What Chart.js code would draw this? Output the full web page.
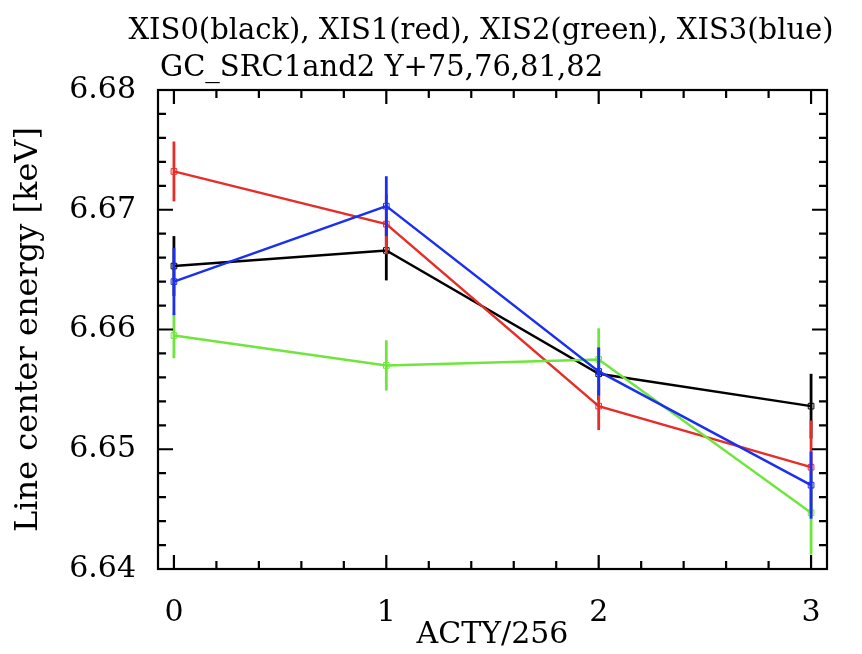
<!DOCTYPE html>
<html>
<head>
<meta charset="utf-8">
<script src="https://cdn.jsdelivr.net/npm/chart.js@4.4.1/dist/chart.umd.min.js"></script>
<style>
  html, body { margin: 0; padding: 0; background: #fff; }
  #wrap { width: 862px; height: 654px; }
</style>
</head>
<body>
<div id="wrap"><canvas id="c" width="862" height="654"></canvas></div>
<script>
// ACTY/256 bins
var acty = [0, 1, 2, 3];

// line center energy (keV) and 1-sigma errors
var xis0 = [6.6653, 6.6666, 6.6563, 6.6536];
var xis0Err = [0.0025, 0.0025, 0.0022, 0.0027];
var xis1 = [6.6732, 6.6688, 6.6536, 6.6485];
var xis1Err = [0.0025, 0.0025, 0.0020, 0.0039];
var xis2 = [6.6595, 6.6570, 6.6575, 6.6447];
var xis2Err = [0.0019, 0.0021, 0.0026, 0.0035];
var xis3 = [6.6640, 6.6703, 6.6565, 6.6470];
var xis3Err = [0.0028, 0.0025, 0.0020, 0.0028];

var yTicks = [6.64, 6.65, 6.66, 6.67, 6.68];
var xTicks = [0, 1, 2, 3];

var titleLine1 = 'XIS0(black), XIS1(red), XIS2(green), XIS3(blue)';
var titleLine2 = 'GC_SRC1and2 Y+75,76,81,82';

var FONT = '"DejaVu Serif", serif';

function pts(ys) {
  return acty.map(function(x, i) { return { x: x, y: ys[i] }; });
}

function series(ys, errs, color, order) {
  return {
    data: pts(ys),
    errs: errs,
    borderColor: color,
    borderWidth: 2.4,
    pointStyle: 'rect',
    pointRadius: 4,
    pointBorderWidth: 1,
    pointBorderColor: color,
    pointBackgroundColor: 'rgba(0,0,0,0)',
    tension: 0,
    order: order
  };
}

// vertical error bars, drawn with each dataset so the stacking matches
var errorBars = {
  id: 'errorBars',
  afterDatasetDraw: function(chart, args) {
    var ds = chart.data.datasets[args.index];
    var ys = chart.scales.y, xs = chart.scales.x;
    var ctx = chart.ctx;
    ctx.save();
    ctx.strokeStyle = ds.borderColor;
    ctx.lineWidth = 2.8;
    ds.data.forEach(function(p, i) {
      var px = xs.getPixelForValue(p.x);
      ctx.beginPath();
      ctx.moveTo(px, ys.getPixelForValue(p.y - ds.errs[i]));
      ctx.lineTo(px, ys.getPixelForValue(p.y + ds.errs[i]));
      ctx.stroke();
    });
    ctx.restore();
  }
};

// boxed frame with inward ticks on all four sides
var frame = {
  id: 'frame',
  afterDraw: function(chart) {
    var a = chart.chartArea, ctx = chart.ctx;
    var xs = chart.scales.x, ys = chart.scales.y;
    ctx.save();
    ctx.strokeStyle = '#000';
    ctx.lineWidth = 2.2;
    ctx.strokeRect(a.left, a.top, a.right - a.left, a.bottom - a.top);
    ctx.beginPath();
    var k, px, py, len;
    for (k = 0; k <= 15; k++) {
      px = xs.getPixelForValue(k * 0.2);
      len = (k % 5 === 0) ? 14 : 8;
      ctx.moveTo(px, a.bottom); ctx.lineTo(px, a.bottom - len);
      ctx.moveTo(px, a.top); ctx.lineTo(px, a.top + len);
    }
    for (k = 0; k <= 20; k++) {
      py = ys.getPixelForValue(6.64 + k * 0.002);
      len = (k % 5 === 0) ? 15 : 8;
      ctx.moveTo(a.left, py); ctx.lineTo(a.left + len, py);
      ctx.moveTo(a.right, py); ctx.lineTo(a.right - len, py);
    }
    ctx.stroke();

    ctx.fillStyle = '#000';
    ctx.font = '29px ' + FONT;
    ctx.textBaseline = 'alphabetic';
    ctx.textAlign = 'center';
    ctx.fillText(titleLine1, 481, 39);
    ctx.textAlign = 'left';
    ctx.fillText(titleLine2, 160, 76);
    ctx.restore();
  }
};

new Chart(document.getElementById('c').getContext('2d'), {
  type: 'line',
  data: {
    datasets: [
      series(xis0, xis0Err, '#000000', 3),
      series(xis1, xis1Err, '#e62d28', 2),
      series(xis2, xis2Err, '#6ee63c', 1),
      series(xis3, xis3Err, '#1a2ff0', 0)
    ]
  },
  options: {
    responsive: false,
    animation: false,
    devicePixelRatio: 1,
    layout: { padding: { top: 90, right: 35, left: 0, bottom: 0 } },
    plugins: {
      legend: { display: false },
      tooltip: { enabled: false }
    },
    scales: {
      x: {
        type: 'linear',
        min: -0.075,
        max: 3.075,
        afterBuildTicks: function(s) { s.ticks = xTicks.map(function(v) { return { value: v }; }); },
        afterFit: function(s) { s.height = 85; },
        grid: { display: false },
        border: { display: false },
        ticks: {
          color: '#000',
          font: { family: FONT, size: 30 },
          padding: 18,
          maxRotation: 0,
          callback: function(v) { return String(v); }
        },
        title: {
          display: true,
          text: 'ACTY/256',
          color: '#000',
          font: { family: FONT, size: 30 },
          padding: { top: 0, bottom: 1 }
        }
      },
      y: {
        min: 6.64,
        max: 6.68,
        afterBuildTicks: function(s) { s.ticks = yTicks.map(function(v) { return { value: v }; }); },
        afterFit: function(s) { s.width = 158; },
        grid: { display: false },
        border: { display: false },
        ticks: {
          color: '#000',
          font: { family: FONT, size: 30 },
          padding: 14,
          callback: function(v) { return v.toFixed(2); }
        },
        title: {
          display: true,
          text: 'Line center energy [keV]',
          color: '#000',
          font: { family: FONT, size: 32 },
          padding: { top: 9, bottom: 0 }
        }
      }
    }
  },
  plugins: [errorBars, frame]
});
</script>
</body>
</html>
